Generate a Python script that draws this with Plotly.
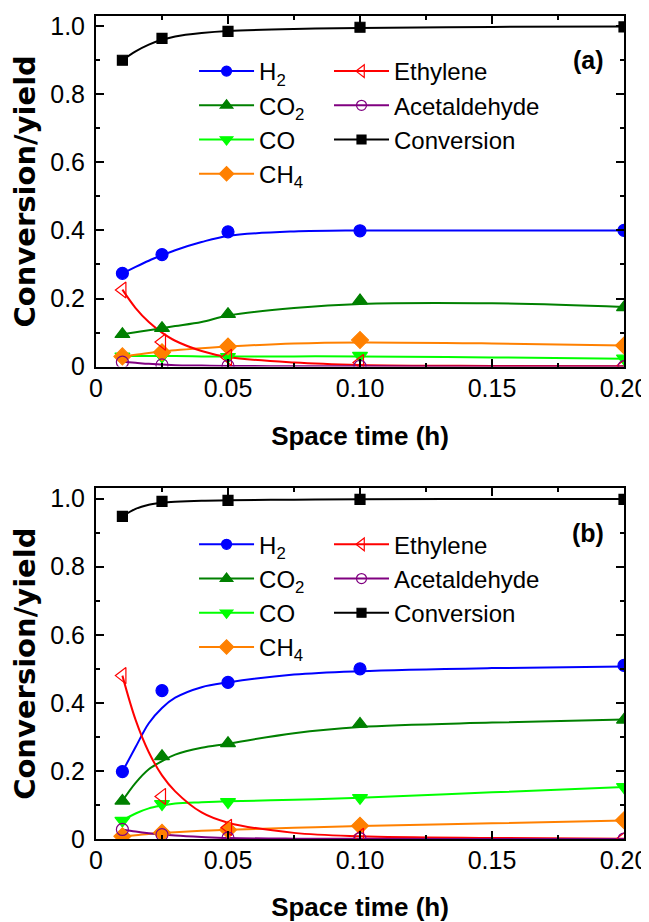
import plotly.graph_objects as go
from plotly.subplots import make_subplots

# ---------------- data ----------------
space_time = [0.01, 0.025, 0.05, 0.10, 0.20]
fit_x = [0.01, 0.015, 0.02, 0.025, 0.03, 0.04, 0.05, 0.075, 0.10, 0.15, 0.20]

series_names = ["H<sub>2</sub>", "CO<sub>2</sub>", "CO", "CH<sub>4</sub>",
                "Ethylene", "Acetaldehyde", "Conversion"]

# panel (a) measured points
a_H2 = [0.274, 0.329, 0.396, 0.399, 0.400]
a_CO2 = [0.095, 0.113, 0.154, 0.194, 0.174]
a_CO = [0.030, 0.030, 0.029, 0.032, 0.024]
a_CH4 = [0.030, 0.042, 0.059, 0.078, 0.062]
a_Eth = [0.225, 0.072, 0.027, 0.012, 0.003]
a_Ace = [0.013, 0.005, 0.002, 0.001, 0.000]
a_Conv = [0.900, 0.964, 0.985, 0.997, 0.998]

# panel (a) fitted curves
a_H2_fit = [0.274, 0.293, 0.311, 0.327, 0.342, 0.366, 0.384, 0.397, 0.400, 0.400, 0.400]
a_CO2_fit = [0.095, 0.101, 0.107, 0.113, 0.119, 0.131, 0.150, 0.172, 0.184, 0.186, 0.175]
a_CO_fit = [0.032, 0.031, 0.031, 0.031, 0.031, 0.030, 0.030, 0.030, 0.030, 0.027, 0.023]
a_CH4_fit = [0.030, 0.035, 0.040, 0.044, 0.048, 0.054, 0.059, 0.068, 0.071, 0.068, 0.062]
a_Eth_fit = [0.226, 0.172, 0.131, 0.100, 0.076, 0.046, 0.028, 0.012, 0.005, 0.002, 0.001]
a_Ace_fit = [0.014, 0.011, 0.008, 0.006, 0.004, 0.003, 0.002, 0.001, 0.001, 0.000, 0.000]
a_Conv_fit = [0.900, 0.926, 0.946, 0.960, 0.970, 0.980, 0.986, 0.992, 0.995, 0.998, 0.999]

# panel (b) measured points
b_H2 = [0.198, 0.436, 0.460, 0.500, 0.510]
b_CO2 = [0.112, 0.243, 0.281, 0.338, 0.350]
b_CO = [0.054, 0.103, 0.109, 0.121, 0.153]
b_CH4 = [0.008, 0.018, 0.027, 0.039, 0.055]
b_Eth = [0.480, 0.125, 0.034, 0.008, 0.002]
b_Ace = [0.028, 0.013, 0.003, 0.001, 0.000]
b_Conv = [0.948, 0.992, 0.995, 0.998, 0.998]

# panel (b) fitted curves
b_H2_fit = [0.198, 0.270, 0.340, 0.385, 0.415, 0.446, 0.460, 0.483, 0.493, 0.502, 0.507]
b_CO2_fit = [0.112, 0.165, 0.205, 0.229, 0.248, 0.268, 0.280, 0.311, 0.329, 0.342, 0.351]
b_CO_fit = [0.054, 0.075, 0.090, 0.098, 0.104, 0.108, 0.111, 0.115, 0.121, 0.137, 0.153]
b_CH4_fit = [0.008, 0.011, 0.015, 0.018, 0.020, 0.024, 0.027, 0.033, 0.038, 0.046, 0.054]
b_Eth_fit = [0.480, 0.350, 0.255, 0.187, 0.140, 0.078, 0.048, 0.018, 0.008, 0.003, 0.001]
b_Ace_fit = [0.028, 0.022, 0.017, 0.013, 0.010, 0.006, 0.003, 0.001, 0.0005, 0.000, 0.000]
b_Conv_fit = [0.948, 0.970, 0.982, 0.988, 0.991, 0.994, 0.995, 0.997, 0.998, 0.999, 0.999]

x_tickvals = [0, 0.05, 0.10, 0.15, 0.20]
x_ticktext = ["0", "0.05", "0.10", "0.15", "0.20"]
x_minor = [0.025, 0.075, 0.125, 0.175]
y_tickvals = [0, 0.2, 0.4, 0.6, 0.8, 1.0]
y_ticktext = ["0", "0.2", "0.4", "0.6", "0.8", "1.0"]
y_minor = [0.1, 0.3, 0.5, 0.7, 0.9]

# ---------------- styles ----------------
colors = ["#0000ff", "#008000", "#00ff00", "#ff8000", "#ff0000", "#800080", "#000000"]
symbols = ["circle", "triangle-up", "triangle-down", "diamond",
           "triangle-left-open", "circle-open", "square"]
msizes = [12, 13, 13, 13, 14, 12, 10]
lsizes = [10, 11, 11, 11, 11, 10, 9]

FONT = "Liberation Sans, Arial, sans-serif"

fig = make_subplots(rows=2, cols=1, vertical_spacing=0.148)

panels = [
    (1, [a_H2, a_CO2, a_CO, a_CH4, a_Eth, a_Ace, a_Conv],
     [a_H2_fit, a_CO2_fit, a_CO_fit, a_CH4_fit, a_Eth_fit, a_Ace_fit, a_Conv_fit],
     ["legend", "legend", "legend", "legend", "legend2", "legend2", "legend2"]),
    (2, [b_H2, b_CO2, b_CO, b_CH4, b_Eth, b_Ace, b_Conv],
     [b_H2_fit, b_CO2_fit, b_CO_fit, b_CH4_fit, b_Eth_fit, b_Ace_fit, b_Conv_fit],
     ["legend3", "legend3", "legend3", "legend3", "legend4", "legend4", "legend4"]),
]

for row, pts, fits, legs in panels:
    for i in range(7):
        fig.add_trace(go.Scatter(
            x=fit_x, y=fits[i], mode="lines",
            line=dict(color=colors[i], width=2, shape="spline", smoothing=1.0),
            showlegend=False, hoverinfo="skip"), row=row, col=1)
    for i in range(7):
        fig.add_trace(go.Scatter(
            x=space_time, y=pts[i], mode="markers",
            marker=dict(symbol=symbols[i], size=msizes[i], color=colors[i],
                        line=dict(width=1.2, color=colors[i])),
            showlegend=False), row=row, col=1)
    for i in range(7):
        fig.add_trace(go.Scatter(
            x=[None], y=[None], mode="lines+markers", name=series_names[i],
            line=dict(color=colors[i], width=2),
            marker=dict(symbol=symbols[i], size=lsizes[i], color=colors[i],
                        line=dict(width=1.2, color=colors[i])),
            legend=legs[i], legendgroup=f"g{row}{i}", showlegend=True), row=row, col=1)

axis_common = dict(
    showline=True, linewidth=2, linecolor="black", mirror="allticks",
    ticks="inside", ticklen=8, tickwidth=2, tickcolor="black",
    showgrid=False, zeroline=False, automargin=False,
    tickfont=dict(family=FONT, size=25, color="black"),
)

for r in (1, 2):
    fig.update_xaxes(range=[0, 0.2], tickmode="array", tickvals=x_tickvals, ticktext=x_ticktext,
                     minor=dict(tickmode="array", tickvals=x_minor, ticks="inside", ticklen=4,
                                tickwidth=2, tickcolor="black", showgrid=False),
                     ticklabelstandoff=-2,
                     title=dict(text="<b>Space time (h)</b>", font=dict(family=FONT, size=26, color="black"),
                                standoff=26),
                     row=r, col=1, **axis_common)
    fig.update_yaxes(range=[0, 1.03], tickmode="array", tickvals=y_tickvals, ticktext=y_ticktext,
                     minor=dict(tickmode="array", tickvals=y_minor, ticks="inside", ticklen=4,
                                tickwidth=2, tickcolor="black", showgrid=False),
                     ticklabelstandoff=4,
                     title=dict(text="<b>Conversion/yield</b>",
                                font=dict(family="DejaVu Sans, sans-serif", size=29, color="black"),
                                standoff=14),
                     row=r, col=1, **axis_common)

leg_common = dict(font=dict(family=FONT, size=24, color="black"), bgcolor="rgba(0,0,0,0)",
                  borderwidth=0, itemwidth=55, tracegroupgap=0, xanchor="left", yanchor="top",
                  orientation="v")

fig.update_layout(
    width=641, height=914,
    margin=dict(l=88, r=25, t=8, b=83),
    plot_bgcolor="white", paper_bgcolor="white",
    font=dict(family=FONT, size=20, color="black"),
    legend=dict(x=0.1857, y=0.9599, **leg_common),
    legend2=dict(x=0.4413, y=0.9599, **leg_common),
    legend3=dict(x=0.1857, y=0.3849, **leg_common),
    legend4=dict(x=0.4413, y=0.3849, **leg_common),
    annotations=[
        dict(text="<b>(a)</b>", xref="x domain", yref="y domain", x=0.9655, y=0.874,
             xanchor="right", yanchor="middle", showarrow=False,
             font=dict(family=FONT, size=25, color="black")),
        dict(text="<b>(b)</b>", xref="x2 domain", yref="y2 domain", x=0.9655, y=0.874,
             xanchor="right", yanchor="middle", showarrow=False,
             font=dict(family=FONT, size=25, color="black")),
    ],
)

fig.write_html("out.html")
